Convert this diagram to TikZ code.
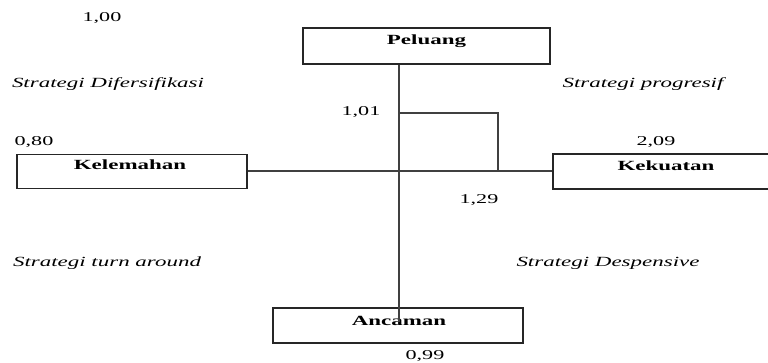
\documentclass[tikz,border=0pt]{standalone}
\usepackage{fontspec}
\setmainfont{Liberation Serif}[FakeStretch=1.64]
\begin{document}
\begin{tikzpicture}[x=1pt,y=-1pt,
  box/.style={draw=black!85, line width=1.2pt, rectangle, inner sep=0pt},
  lbl/.style={inner sep=0pt, font=\fontsize{14}{16}\selectfont\bfseries},
  num/.style={inner sep=0pt, font=\fontsize{13.5}{16}\selectfont},
  strat/.style={inner sep=0pt, font=\fontsize{14}{16}\selectfont\itshape},
  axis/.style={draw=black!75, line width=1.1pt}]
\clip (0,0) rectangle (768,363);
% quadrant boxes
\node[box, minimum width=247, minimum height=36] (peluang) at (426.5,46) {};
\node[box, minimum width=250, minimum height=35] (ancaman) at (398,325.5) {};
\node[box, minimum width=230, minimum height=34] (kelemahan) at (132,171.5) {};
\node[box, minimum width=226, minimum height=35] (kekuatan) at (666,171.5) {};
\node[lbl] (peluangtxt) at (426.5,41) {Peluang};
\node[lbl] (ancamantxt) at (399,321) {Ancaman};
\node[lbl] (kelemahantxt) at (130,165) {Kelemahan};
\node[lbl] (kekuatantxt) at (666,166) {Kekuatan};
% axes
\coordinate (origin) at (399,171);
\coordinate (axisend) at (399,322);
\draw[axis] (origin |- peluang.south) -- (axisend);
\draw[axis] (kelemahan.east |- origin) -- (kekuatan.west |- origin);
% position of the score point
\coordinate (ptop) at (399,113);
\coordinate (pright) at (498,171);
\draw[axis] (ptop) -| (pright);
% scores
\node[num] (n100) at (102,18) {1,00};
\node[num] (n080) at (34,142) {0,80};
\node[num] (n101) at (361,112) {1,01};
\node[num] (n209) at (656,142) {2,09};
\node[num] (n129) at (479,200) {1,29};
\node[num] (n099) at (425,356) {0,99};
% strategy labels
\node[strat] (s1) at (108,84) {Strategi Difersifikasi};
\node[strat] (s2) at (643,84) {Strategi progresif};
\node[strat] (s3) at (107,263) {Strategi turn around};
\node[strat] (s4) at (608,263) {Strategi Despensive};
\end{tikzpicture}
\end{document}
